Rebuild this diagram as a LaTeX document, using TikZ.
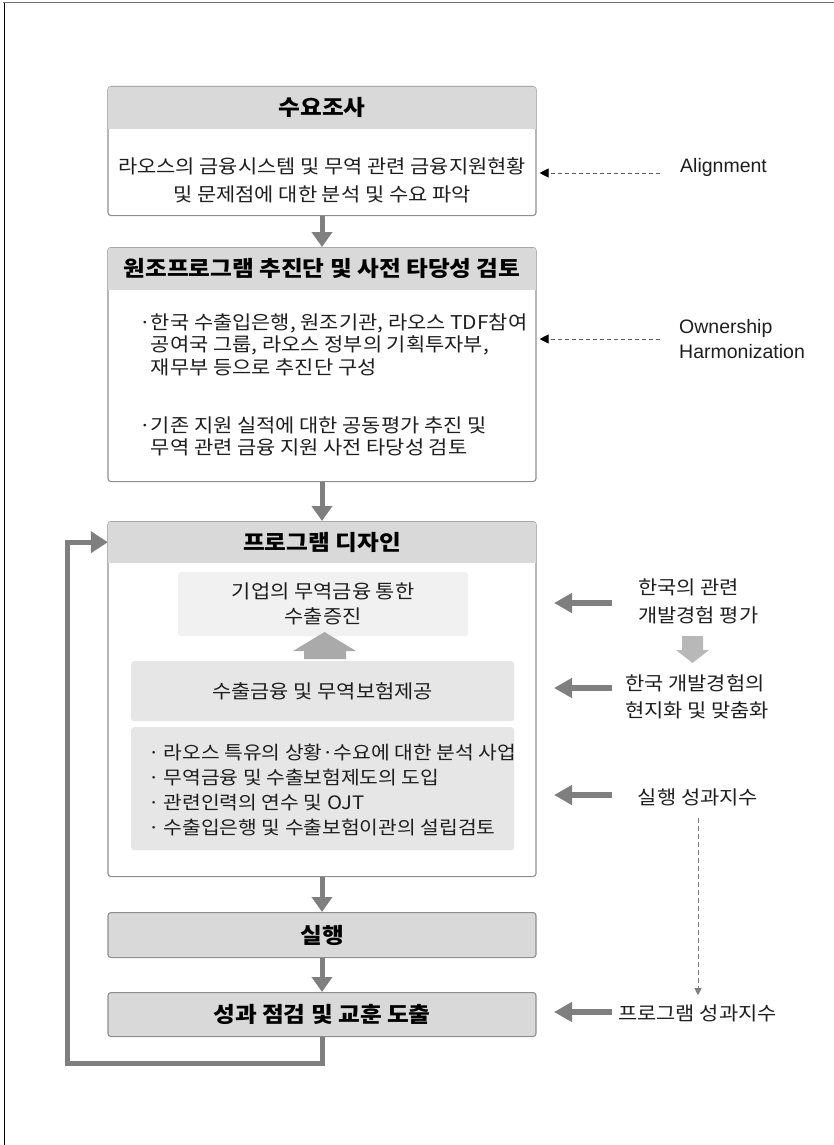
\documentclass[tikz,border=0pt]{standalone}
\usepackage{fontspec}
\setmainfont{Noto Sans CJK KR}[FakeStretch=1.1]
\newfontfamily\latinf{Liberation Sans}
\usetikzlibrary{arrows.meta,calc}
\definecolor{hdr}{HTML}{D9D9D9}
\definecolor{bord}{HTML}{8E8E8E}
\definecolor{arr}{HTML}{7F7F7F}
\definecolor{lightA}{HTML}{F1F1F1}
\definecolor{lightB}{HTML}{E6E6E6}
\definecolor{blkA}{HTML}{AAAAAA}
\definecolor{blkB}{HTML}{B8B8B8}
\definecolor{txt}{HTML}{1E1E1E}
\tikzset{
  box/.style={draw=bord, line width=1.1, rounded corners=3, fill=white, inner sep=0, minimum width=428, anchor=north},
  gbox/.style={box, fill=hdr},
  hbar/.style={inner sep=0, minimum width=428, anchor=north},
  ibox/.style={rounded corners=3, inner sep=0, anchor=north west},
  title/.style={font=\fontsize{21.5}{25}\selectfont\bfseries, text=black, inner sep=0},
  body/.style={font=\fontsize{19}{28}\selectfont, text=txt, inner sep=0},
  eng/.style={font=\latinf\fontsize{19.5}{25}\selectfont, text=txt, inner sep=0, align=left, anchor=west},
  flow/.style={draw=arr, line width=5, -{Triangle[length=15,width=20]}},
  fb/.style={draw=arr, line width=5, line join=miter, -{Triangle[length=17,width=21]}},
  side/.style={draw=arr, line width=6, -{Triangle[length=18,width=19]}},
  dasharr/.style={draw=black!65, line width=0.9, dash pattern=on 4pt off 3pt, -{Triangle[length=9,width=9,fill=black,color=black]}, shorten >=3},
  vdash/.style={draw=arr, line width=0.9, dash pattern=on 5pt off 3pt, -{Triangle[length=7,width=7]}},
}
\begin{document}
\begin{tikzpicture}[x=1pt,y=-1pt]
\useasboundingbox (0,0) rectangle (834,1145);
% frame
\draw[draw=black!55, line width=1.4] (3,2.7) -- (834,2.7);
\draw[draw=black, line width=1] (4.3,2.7) -- (4.3,1145);

% ---------- box 1
\node[box, minimum height=129] (b1) at (322,86) {};
\node[hbar, minimum height=43] (h1) at (b1.north) {};
\begin{scope}
\clip[rounded corners=2.5] ([shift={(0.6,0.6)}]b1.north west) rectangle ([shift={(-0.6,-0.6)}]b1.south east);
\fill[hdr] (h1.north west) rectangle (h1.south east);
\end{scope}
\node[title] (t1) at (h1.center) {수요조사};
\node[body, align=center] (x1) at (322,180) {라오스의 금융시스템 및 무역 관련 금융지원현황\\및 문제점에 대한 분석 및 수요 파악};

% ---------- box 2
\node[box, minimum height=234] (b2) at (322,247) {};
\node[hbar, minimum height=43] (h2) at (b2.north) {};
\begin{scope}
\clip[rounded corners=2.5] ([shift={(0.6,0.6)}]b2.north west) rectangle ([shift={(-0.6,-0.6)}]b2.south east);
\fill[hdr] (h2.north west) rectangle (h2.south east);
\end{scope}
\node[title] (t2) at (h2.center) {원조프로그램 추진단 및 사전 타당성 검토};
\node[body, align=left, anchor=west, font=\fontsize{19}{22.5}\selectfont] (x2a) at (139,344.5)
  {·한국 수출입은행, 원조기관, 라오스 TDF참여\\\phantom{·}공여국 그룹, 라오스 정부의 기획투자부,\\\phantom{·}재무부 등으로 추진단 구성};
\node[body, align=left, anchor=west, font=\fontsize{19}{22.5}\selectfont] (x2b) at (139,436.5)
  {·기존 지원 실적에 대한 공동평가 추진 및\\\phantom{·}무역 관련 금융 지원 사전 타당성 검토};

% ---------- box 3
\node[box, minimum height=355] (b3) at (322,521) {};
\node[hbar, minimum height=42] (h3) at (b3.north) {};
\begin{scope}
\clip[rounded corners=2.5] ([shift={(0.6,0.6)}]b3.north west) rectangle ([shift={(-0.6,-0.6)}]b3.south east);
\fill[hdr] (h3.north west) rectangle (h3.south east);
\end{scope}
\node[title] (t3) at (h3.center) {프로그램 디자인};

\node[ibox, fill=lightA, minimum width=290, minimum height=64] (i1) at (178,572) {};
\node[body, align=center, font=\fontsize{19}{25}\selectfont] (y1) at (i1.center) {기업의 무역금융 통한\\수출증진};
\node[ibox, fill=lightB, minimum width=383, minimum height=60] (i2) at (131,661) {};
\node[body] (y2) at (i2.center) {수출금융 및 무역보험제공};
\node[ibox, fill=lightB, minimum width=383, minimum height=123] (i3) at (131,727) {};
\node[body, align=left, anchor=west, font=\fontsize{18.5}{25}\selectfont] (y3) at (148,790.5)
  {·\hspace{4pt}라오스 특유의 상황·수요에 대한 분석 사업\\·\hspace{4pt}무역금융 및 수출보험제도의 도입\\·\hspace{4pt}관련인력의 연수 및 OJT\\·\hspace{4pt}수출입은행 및 수출보험이관의 설립검토};
% light block arrow i2 -> i1
\fill[blkA] (304,659) -- (304,651) -- (293,651) -- (324.5,632) -- (356,651) -- (346,651) -- (346,659) -- cycle;

% ---------- box 4, 5
\node[gbox, minimum height=45] (b4) at (322,912) {};
\node[title] (t4) at (b4.center) {실행};
\node[gbox, minimum height=44] (b5) at (322,992) {};
\node[title] (t5) at (b5.center) {성과 점검 및 교훈 도출};

% ---------- flow arrows
\draw[flow] (b1.south) -- (b2.north);
\draw[flow] (b2.south) -- (b3.north);
\draw[flow] (b3.south) -- (b4.north);
\draw[flow] (b4.south) -- (b5.north);
\coordinate (fbc) at (67,1063);
\draw[fb] (b5.south) |- (fbc) |- (h3.west);

% ---------- right side: dashed
\node[eng] (al) at (680,167) {Alignment};
\coordinate (a1s) at (660,173);
\draw[dasharr] (a1s) -- (a1s -| b1.east);
\node[eng] (ow) at (679,339.5) {Ownership\\Harmonization};
\coordinate (a2s) at (660,339);
\draw[dasharr] (a2s) -- (a2s -| b2.east);

% ---------- right side: solid
\node[body, align=left, anchor=west] (r1) at (638,601) {한국의 관련\\개발경험 평가};
\fill[blkB] (682,636) -- (703,636) -- (703,650) -- (709,650) -- (692.5,663) -- (676,650) -- (682,650) -- cycle;
\node[body, align=left, anchor=west, font=\fontsize{19}{27}\selectfont] (r2) at (625,696.5) {한국 개발경험의\\현지화 및 맞춤화};
\node[body] (r3) at (698,797) {실행 성과지수};
\node[body] (r4) at (697.5,1013) {프로그램 성과지수};

\coordinate (s1) at (612,603); \coordinate (e1) at (554,603);
\coordinate (s2) at (612,688); \coordinate (e2) at (554,688);
\coordinate (s3) at (612,795); \coordinate (e3) at (554,795);
\coordinate (s4) at (612,1012); \coordinate (e4) at (554,1012);
\draw[side] (s1) -- (e1);
\draw[side] (s2) -- (e2);
\draw[side] (s3) -- (e3);
\draw[side] (s4) -- (e4);

\draw[vdash, shorten <=12, shorten >=9] (r3.south -| 698,0) -- (r4.north -| 698,0);
\end{tikzpicture}
\end{document}
